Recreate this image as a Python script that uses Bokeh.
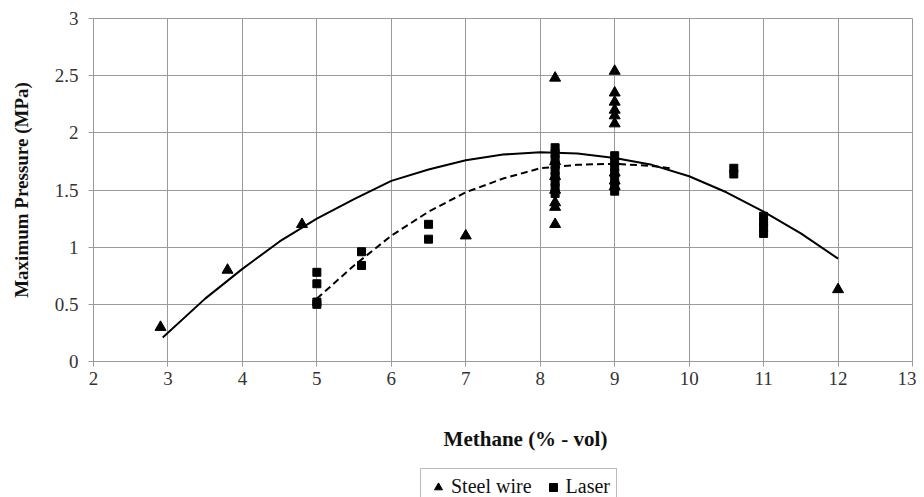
from bokeh.plotting import figure
from bokeh.layouts import column
from bokeh.models import Range1d, Legend, LegendItem, Label, FixedTicker
from bokeh.embed import file_html
from bokeh.resources import INLINE

# ---- data ----
steel_x = [2.9, 3.8, 4.8, 7.0,
           8.2, 8.2, 8.2, 8.2, 8.2, 8.2, 8.2,
           9.0, 9.0, 9.0, 9.0, 9.0, 9.0, 9.0, 9.0, 9.0,
           12.0]
steel_y = [0.30, 0.80, 1.20, 1.10,
           2.48, 1.39, 1.35, 1.20, 1.50, 1.62, 1.75,
           2.54, 2.35, 2.27, 2.20, 2.15, 2.08, 1.53, 1.58, 1.65,
           0.63]

laser_x = [5.0, 5.0, 5.0, 5.0,
           5.6, 5.6,
           6.5, 6.5,
           8.2, 8.2, 8.2, 8.2, 8.2, 8.2, 8.2, 8.2, 8.2,
           9.0, 9.0, 9.0, 9.0, 9.0, 9.0, 9.0,
           10.6, 10.6,
           11.0, 11.0, 11.0, 11.0]
laser_y = [0.78, 0.68, 0.52, 0.50,
           0.96, 0.84,
           1.20, 1.07,
           1.47, 1.52, 1.57, 1.62, 1.67, 1.72, 1.77, 1.82, 1.87,
           1.49, 1.55, 1.60, 1.65, 1.70, 1.75, 1.80,
           1.69, 1.64,
           1.27, 1.22, 1.17, 1.12]

# trend lines
steel_trend_x = [2.93, 3.5, 4.0, 4.5, 5.0, 5.5, 6.0, 6.5, 7.0, 7.5, 8.0, 8.5,
                 9.0, 9.5, 10.0, 10.5, 11.0, 11.5, 12.0]
steel_trend_y = [0.21, 0.55, 0.81, 1.05, 1.25, 1.42, 1.58, 1.68, 1.76, 1.81, 1.83, 1.82,
                 1.78, 1.72, 1.62, 1.48, 1.31, 1.12, 0.90]

laser_trend_x = [5.0, 5.5, 6.0, 6.5, 7.0, 7.5, 8.0, 8.5, 9.0, 9.5, 9.75]
laser_trend_y = [0.55, 0.84, 1.10, 1.31, 1.48, 1.60, 1.69, 1.72, 1.73, 1.71, 1.69]

x_ticks = [2, 3, 4, 5, 6, 7, 8, 9, 10, 11, 12, 13]
y_ticks = [0, 0.5, 1, 1.5, 2, 2.5, 3]

series_names = ["Steel wire", "Laser"]

SERIF = "Liberation Serif"
GRID = "#9a9a9a"
NAN = float("nan")

p = figure(width=916, height=400, output_backend="svg", toolbar_location=None,
           x_range=Range1d(2, 13), y_range=Range1d(0, 3),
           min_border_left=93, min_border_right=4, min_border_top=18,
           min_border_bottom=39)
p.outline_line_color = GRID
p.background_fill_color = "white"
p.border_fill_color = "white"

for ax in (p.xaxis[0], p.yaxis[0]):
    ax.axis_line_color = GRID
    ax.major_tick_line_color = GRID
    ax.major_tick_out = 5
    ax.major_tick_in = 0
    ax.minor_tick_line_color = None
    ax.major_label_text_font = SERIF
    ax.major_label_text_font_size = "19px"
    ax.major_label_text_color = "#333333"
    ax.axis_label_text_font = SERIF
    ax.axis_label_text_font_style = "bold"
    ax.axis_label_text_color = "#111111"

p.xaxis.ticker = FixedTicker(ticks=x_ticks)
p.yaxis.ticker = FixedTicker(ticks=y_ticks)
p.xaxis.major_label_standoff = 5
p.yaxis.major_label_standoff = 10
p.yaxis.axis_label = "Maximum Pressure (MPa)"
p.yaxis.axis_label_text_font_size = "19px"
p.yaxis.axis_label_standoff = 20

p.xgrid.ticker = FixedTicker(ticks=x_ticks)
p.ygrid.ticker = FixedTicker(ticks=y_ticks)
p.xgrid.grid_line_color = GRID
p.ygrid.grid_line_color = GRID

p.line(steel_trend_x, steel_trend_y, line_color="black", line_width=2)
p.line(laser_trend_x, laser_trend_y, line_color="black", line_width=2, line_dash="7 4")

p.scatter(steel_x, steel_y, marker="triangle", size=11, color="black")
p.scatter(laser_x, laser_y, marker="square", size=8, color="black")

# ---- lower strip: x-axis title and legend (frame aligned with the plot above) ----
q = figure(width=916, height=97, output_backend="svg", toolbar_location=None,
           x_range=Range1d(0, 916), y_range=Range1d(0, 97),
           x_axis_location=None, y_axis_location=None,
           min_border=0, min_border_left=0, min_border_right=0,
           min_border_top=0, min_border_bottom=0)
q.outline_line_color = None
q.xgrid.visible = False
q.ygrid.visible = False
q.background_fill_color = "white"
q.border_fill_color = "white"

xtitle = Label(x=432, y=59, x_units="screen", y_units="screen",
               text="Methane (% - vol)", text_font=SERIF, text_font_style="bold",
               text_font_size="21px", text_align="center", text_baseline="middle",
               text_color="#111111")
q.add_layout(xtitle)

# legend-only glyphs (no visible points)
leg_steel = q.scatter([NAN], [NAN], marker="triangle", size=11, color="black")
leg_laser = q.scatter([NAN], [NAN], marker="square", size=8, color="black")

legend = Legend(items=[LegendItem(label=series_names[0], renderers=[leg_steel]),
                       LegendItem(label=series_names[1], renderers=[leg_laser])],
                location=(327, -8), orientation="horizontal",
                label_text_font=SERIF, label_text_font_size="20px",
                label_text_color="#111111",
                glyph_width=22, glyph_height=20, label_standoff=2, spacing=10,
                padding=6, margin=0, border_line_color="#777777",
                border_line_width=1, background_fill_alpha=1)
q.add_layout(legend, "center")

open("out.html", "w").write(file_html(column(p, q), INLINE))
